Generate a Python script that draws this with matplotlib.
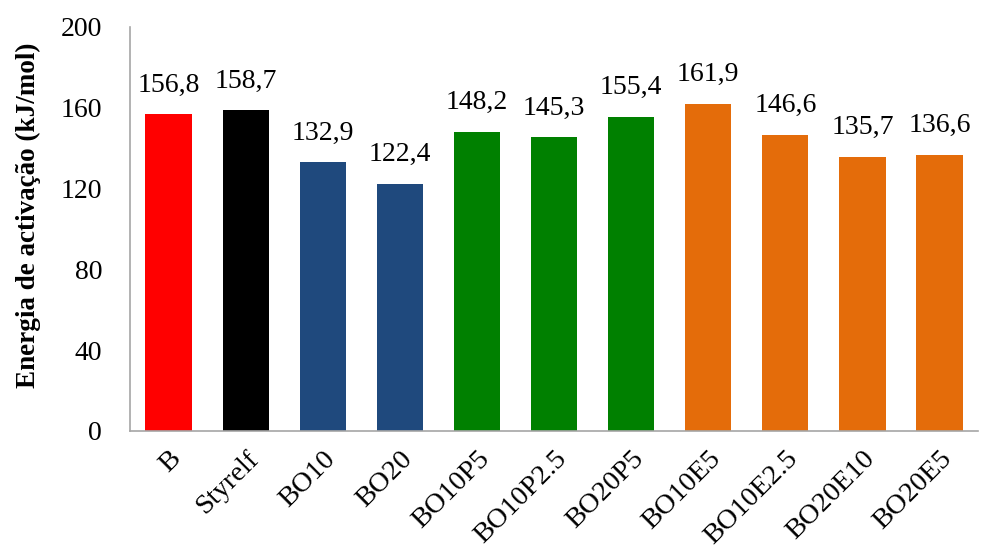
import matplotlib
matplotlib.use("Agg")
import matplotlib.pyplot as plt

categories = ["B", "Styrelf", "BO10", "BO20", "BO10P5", "BO10P2.5", "BO20P5",
              "BO10E5", "BO10E2.5", "BO20E10", "BO20E5"]
values = [156.8, 158.7, 132.9, 122.4, 148.2, 145.3, 155.4, 161.9, 146.6, 135.7, 136.6]
colors = ["#FF0000", "#000000", "#1F497D", "#1F497D", "#008000", "#008000", "#008000",
          "#E46C0A", "#E46C0A", "#E46C0A", "#E46C0A"]
yticks = [0, 40, 80, 120, 160, 200]

plt.rcParams["font.family"] = ["Liberation Serif", "DejaVu Serif"]

fig = plt.figure(figsize=(9.85, 5.49), dpi=100)
ax = fig.add_axes([0.132, 0.215, 0.861, 0.736])

x = range(len(categories))
bars = ax.bar(x, values, width=0.6, color=colors)
labels = [f"{v:.1f}".replace(".", ",") for v in values]
ax.bar_label(bars, labels=labels, padding=12, fontsize=20)

ax.set_xlim(-0.5, len(categories) - 0.5)
ax.set_ylim(0, 200)
ax.set_yticks(yticks)
ax.set_yticklabels([str(t) for t in yticks], fontsize=20)
ax.set_xticks(list(x))
ax.set_xticklabels(categories, fontsize=20.5, rotation=45, ha="right",
                   rotation_mode="anchor")
ax.tick_params(axis="y", length=0, pad=20)
ax.tick_params(axis="x", length=0, pad=11)

ax.set_ylabel("Energia de activação (kJ/mol)", fontsize=19.5, fontweight="bold")
ax.yaxis.set_label_coords(-0.105, 0.535)

for side in ("top", "right"):
    ax.spines[side].set_visible(False)
for side in ("left", "bottom"):
    ax.spines[side].set_color("#A6A6A6")
    ax.spines[side].set_linewidth(1.2)

fig.savefig("out.png", dpi=100)
